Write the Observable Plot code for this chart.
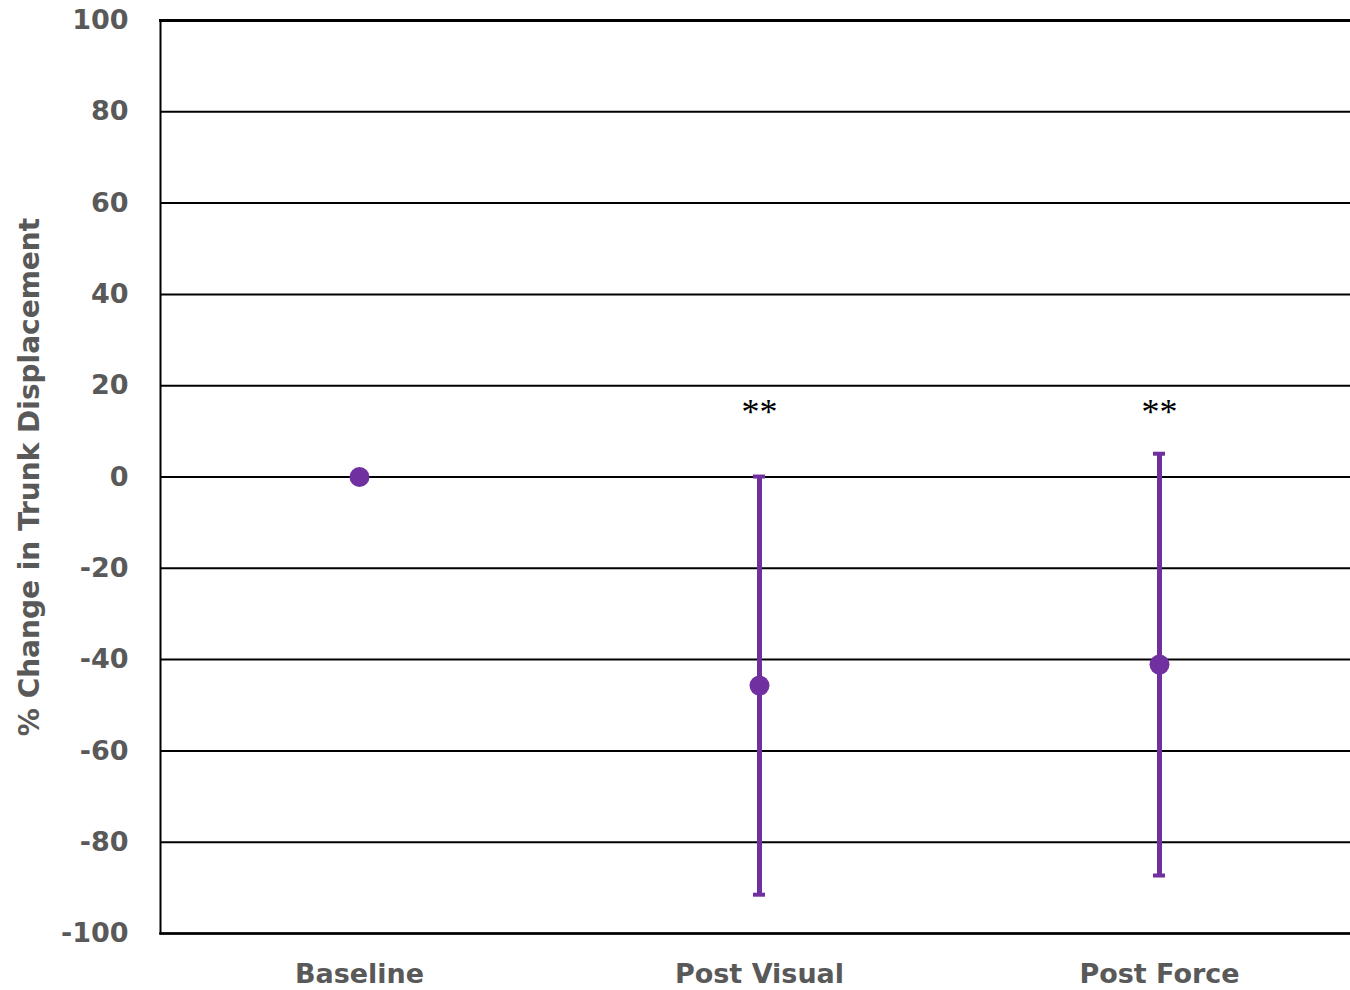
<!DOCTYPE html>
<html>
<head>
<meta charset="utf-8">
<script src="https://cdn.jsdelivr.net/npm/d3@7"></script>
<script src="https://cdn.jsdelivr.net/npm/@observablehq/plot@0.6"></script>
<style>
  html, body { margin: 0; padding: 0; background: #fff; }
  #chart svg { display: block; }
</style>
</head>
<body>
<div id="chart"></div>
<script>
const categories = ["Baseline", "Post Visual", "Post Force"];
const means = [0, -45.7, -41.1];
const errors = [0, 45.8, 46.2];
const significance = ["", "**", "**"];
const sigY = [15, 15, 15];
const yTicks = [-100, -80, -60, -40, -20, 0, 20, 40, 60, 80, 100];

const data = categories.map((c, i) => ({
  cat: c, mean: means[i], err: errors[i],
  lo: means[i] - errors[i], hi: means[i] + errors[i],
  sig: significance[i], sy: sigY[i]
}));
const withErr = data.filter(d => d.err > 0);
const withSig = data.filter(d => d.sig);

const purple = "#7030A0";
const font = "'DejaVu Sans', sans-serif";

const chart = Plot.plot({
  width: 1350,
  height: 990,
  marginLeft: 160,
  marginRight: 0,
  marginTop: 20,
  marginBottom: 57,
  style: { fontFamily: font, background: "#fff" },
  x: {
    type: "band",
    domain: categories,
    range: [159, 1359],
    paddingInner: 0.97,
    paddingOuter: 0.485,
    label: null
  },
  y: {
    domain: [-100, 100],
    ticks: yTicks,
    label: null
  },
  marks: [
    Plot.ruleY(yTicks, { stroke: "#000", strokeWidth: 2 }),
    Plot.axisY({
      ticks: yTicks, tickSize: 0, tickPadding: 32, tickFormat: d => String(d),
      fontSize: 27, fontWeight: "bold", fill: "#595959", label: null
    }),
    Plot.axisX({
      tickSize: 0, tickPadding: 30,
      fontSize: 27, fontWeight: "bold", fill: "#595959", label: null
    }),
    Plot.text(["% Change in Trunk Displacement"], {
      frameAnchor: "left", dx: -130, rotate: -90, textAnchor: "middle",
      fontSize: 28, fontWeight: "bold", fill: "#595959"
    }),
    Plot.ruleX(withErr, { x: "cat", y1: "lo", y2: "hi", stroke: purple, strokeWidth: 5 }),
    Plot.tickY(withErr, { x: "cat", y: "lo", stroke: purple, strokeWidth: 4 }),
    Plot.tickY(withErr, { x: "cat", y: "hi", stroke: purple, strokeWidth: 4 }),
    Plot.dot(data, { x: "cat", y: "mean", r: 10, fill: purple }),
    Plot.text(withSig, { x: "cat", y: "sy", text: "sig", fontSize: 36, dy: 4, fill: "#000", fontFamily: "'Liberation Serif', serif" }),
    Plot.frame({ anchor: "left", stroke: "#000", strokeWidth: 2 }),
    Plot.frame({ anchor: "top", stroke: "#000", strokeWidth: 3 }),
    Plot.frame({ anchor: "bottom", stroke: "#000", strokeWidth: 2.5 })
  ]
});
document.getElementById("chart").appendChild(chart);
</script>
</body>
</html>
